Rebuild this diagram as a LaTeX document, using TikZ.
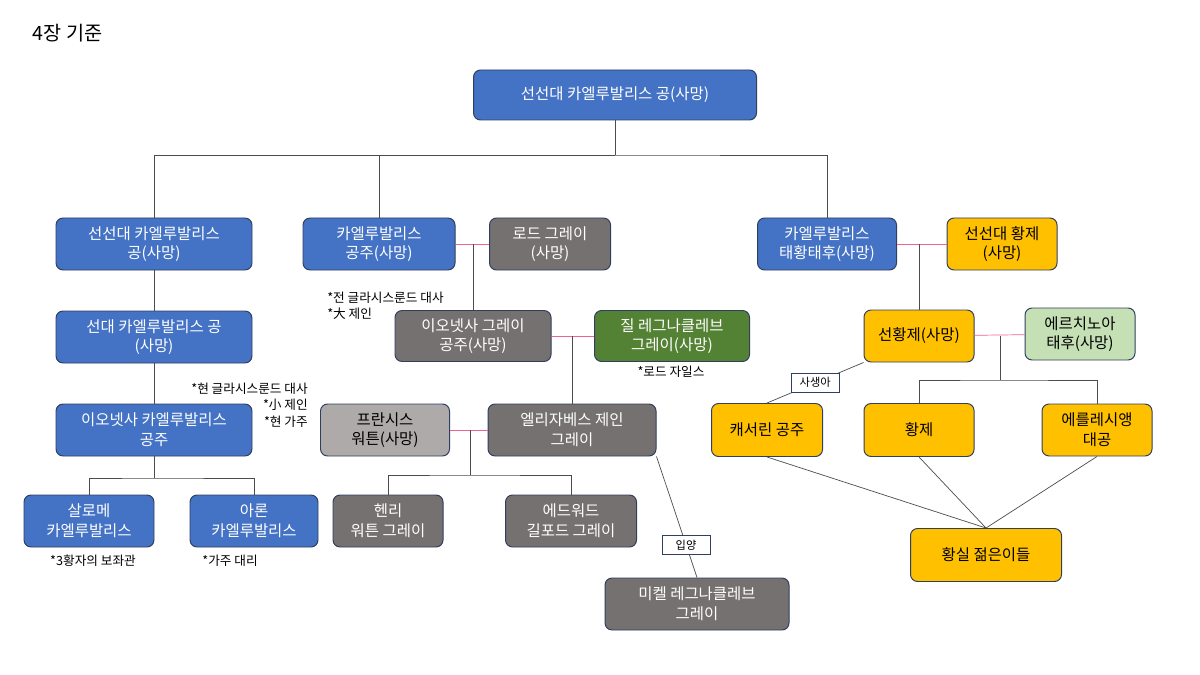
\documentclass[tikz,border=0pt]{standalone}
\usepackage{fontspec}
\setmainfont{Noto Sans CJK KR}
\definecolor{blu}{HTML}{4472C4}
\definecolor{gry}{HTML}{767171}
\definecolor{lgry}{HTML}{AEAAAA}
\definecolor{grn}{HTML}{548235}
\definecolor{lgrn}{HTML}{C5E0B4}
\definecolor{yel}{HTML}{FFC000}
\definecolor{edge}{HTML}{2F3F5F}
\definecolor{pnk}{HTML}{F06292}
\tikzset{box/.style 2 args = {draw=edge, line width=0.7pt, rounded corners=5pt, align=center,
    minimum width=#1*0.025cm, minimum height=#2*0.025cm, inner sep=1pt,
    font=\fontsize{11}{14}\selectfont}}
\tikzset{bl/.style = {fill=blu, text=white}}
\tikzset{gr/.style = {fill=gry, text=white}}
\tikzset{yl/.style = {fill=yel, text=black}}
\tikzset{link/.style = {draw=black!70, line width=0.5pt}}
\tikzset{mate/.style = {draw=pnk, line width=0.5pt}}
\tikzset{note/.style = {font=\fontsize{9}{11.5}\selectfont, inner sep=0, align=left}}
\tikzset{tag/.style = {draw=edge, fill=white, font=\fontsize{8}{9}\selectfont, minimum width=1.2cm, minimum height=0.48cm, inner sep=1pt}}

\begin{document}
\begin{tikzpicture}[x=0.025cm, y=-0.025cm]
    \useasboundingbox (0,0) rectangle (1200,675);
    \node [anchor=west, font=\fontsize{14}{16}\selectfont] (title) at (28,33) {4장 기준};

    % boxes
    \node [box={283}{50}, bl] (top) at (615,95) {선선대 카엘루발리스 공(사망)};
    \node [box={196}{52}, bl] (a1) at (154,244) {선선대 카엘루발리스\\공(사망)};
    \node [box={152}{52}, bl] (a2) at (379,244) {카엘루발리스\\공주(사망)};
    \node [box={121}{52}, gr] (a3) at (550,244) {로드 그레이\\(사망)};
    \node [box={139}{52}, bl] (a4) at (827,244) {카엘루발리스\\태황태후(사망)};
    \node [box={110}{52}, yl] (a5) at (1002,244) {선선대 황제\\(사망)};
    \node [box={196}{52}, bl] (b1) at (154,337) {선대 카엘루발리스 공\\(사망)};
    \node [box={156}{51}, gr] (b2) at (473,336) {이오넷사 그레이\\공주(사망)};
    \node [box={155}{51}, fill=grn, text=white] (b3) at (672,336) {질 레그나클레브\\그레이(사망)};
    \node [box={110}{52}, yl] (b4) at (919,336) {선황제(사망)};
    \node [box={110}{52}, fill=lgrn] (b5) at (1080,334) {에르치노아\\태후(사망)};
    \node [box={196}{52}, bl] (c1) at (154,430) {이오넷사 카엘루발리스\\공주};
    \node [box={129}{52}, fill=lgry] (c2) at (385,430) {프란시스\\워튼(사망)};
    \node [box={168}{52}, gr] (c3) at (572,430) {엘리자베스 제인\\그레이};
    \node [box={111}{53}, yl] (c4) at (767,430) {캐서린 공주};
    \node [box={110}{53}, yl] (c5) at (919,430) {황제};
    \node [box={110}{52}, yl] (c6) at (1097,430) {에를레시앵\\대공};
    \node [box={130}{52}, bl] (d1) at (89,521) {살로메\\카엘루발리스};
    \node [box={128}{52}, bl] (d2) at (254,521) {아론\\카엘루발리스};
    \node [box={110}{52}, gr] (d3) at (388,521) {헨리\\워튼 그레이};
    \node [box={131}{52}, gr] (d4) at (571,521) {에드워드\\길포드 그레이};
    \node [box={151}{53}, yl] (d5) at (986,555) {황실 젊은이들};
    \node [box={184}{52}, gr] (e1) at (697,604) {미켈 레그나클레브\\그레이};

    % notes
    \node [note, anchor=north west] (n1) at (327,292) {*전 글라시스룬드 대사\\*大 제인};
    \node [note, anchor=north east, align=right] (n2) at (308,383) {*현 글라시스룬드 대사\\*小 제인\\*현 가주};
    \node [note] (n3) at (671,372) {*로드 자일스};
    \node [note] (n4) at (93,561) {*3황자의 보좌관};
    \node [note] (n5) at (230,561) {*가주 대리};

    % junctions
    \coordinate (j0) at (615,155);
    \coordinate (j1) at (473,244);
    \coordinate (j2) at (572,336);
    \coordinate (j3) at (470,430);
    \coordinate (j3b) at (470,475);
    \coordinate (j4) at (919,244);
    \coordinate (j5) at (1000,336);
    \coordinate (j5b) at (1000,380);
    \coordinate (j6) at (154,478);
    \coordinate (d5t) at (986,528);

    % lines
    \draw [link] (top) -- (j0);
    \draw [link] (a1.north) |- (j0) -| (a4.north);
    \draw [link] (a2.north) |- (j0);
    \draw [link] (a1) -- (b1);
    \draw [link] (b1) -- (c1);
    \draw [link] (c1) -- (j6);
    \draw [link] (d1.north) |- (j6) -| (d2.north);
    \draw [mate] (a2) -- (a3);
    \draw [link] (j1) -- (b2.north -| j1);
    \draw [mate] (b2) -- (b3);
    \draw [link] (j2) -- (c3.north -| j2);
    \draw [mate] (c2) -- (c3);
    \draw [link] (j3) -- (j3b);
    \draw [link] (d3.north) |- (j3b) -| (d4.north);
    \draw [mate] (a4) -- (a5);
    \draw [link] (j4) -- (b4.north -| j4);
    \draw [mate] (b4) -- (b5);
    \draw [link] (j5) -- (j5b);
    \draw [link] (c5.north) |- (j5b) -| (c6.north);
    \draw [link] (c3.south east) -- (e1.north) node [tag, pos=0.73] (adopt) {입양};
    \draw [link] (b4.south west) -- (c4.north) node [tag, pos=0.5] (illeg) {사생아};
    \draw [link] (c4.south) -- (d5t);
    \draw [link] (c5.south) -- (d5t);
    \draw [link] (c6.south) -- (d5t);
\end{tikzpicture}
\end{document}
